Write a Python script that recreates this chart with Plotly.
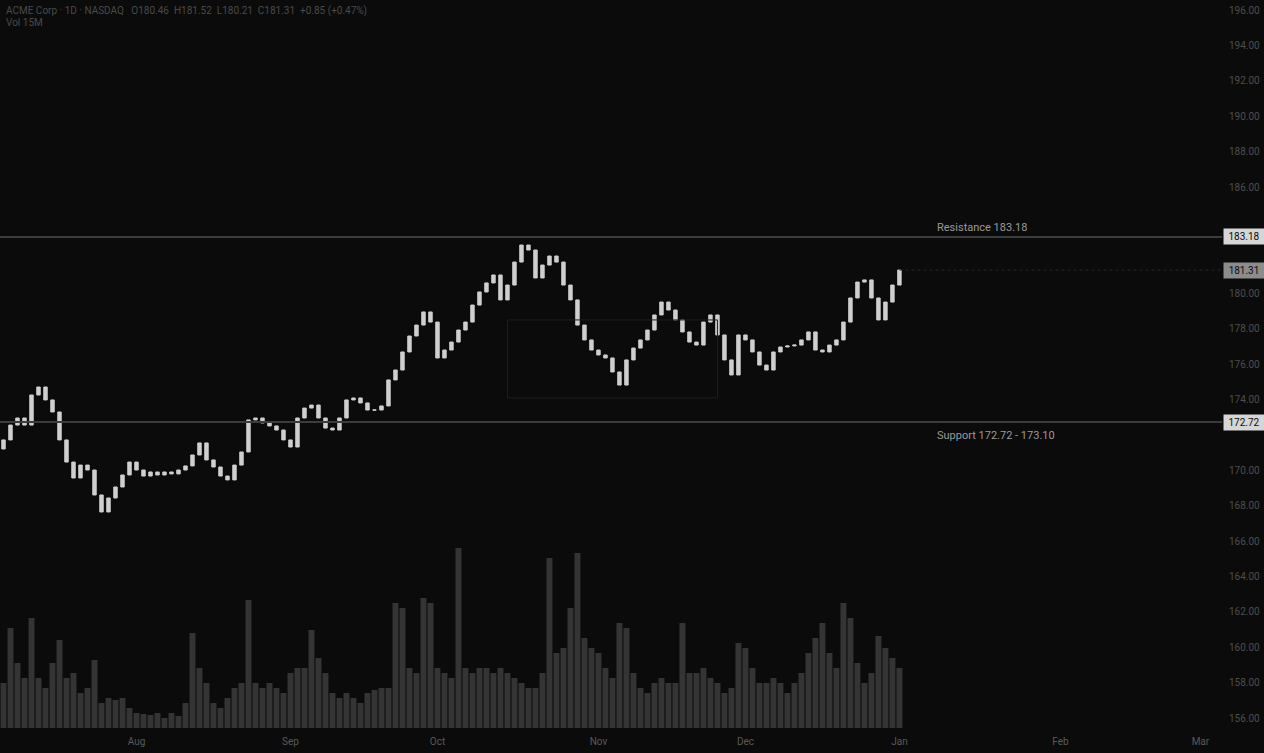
import pandas as pd
import plotly.graph_objects as go

# ---------------- data ----------------
start_date = "2024-07-05"
first_open = 171.20
closes = [
    171.71, 172.55, 172.95, 172.55, 174.25, 174.70, 173.97, 173.29, 171.71, 170.46,
    169.56, 170.29, 170.01, 168.60, 167.64, 168.43, 169.05, 169.73, 170.46, 170.01,
    169.67, 169.90, 169.73, 169.90, 169.79, 170.01, 170.24, 170.86, 171.54, 170.58,
    170.18, 169.67, 169.45, 170.29, 171.03, 172.84, 172.95, 172.67, 172.50, 172.27,
    171.71, 171.31, 172.95, 173.51, 173.68, 172.95, 172.38, 172.27, 172.95, 173.97,
    174.08, 173.80, 173.40, 173.40, 173.63, 175.10, 175.66, 176.68, 177.58, 178.20,
    178.94, 178.37, 176.34, 176.79, 177.24, 177.92, 178.37, 179.33, 180.07, 180.58,
    181.03, 179.62, 180.46, 181.76, 182.72, 182.44, 180.86, 181.59, 182.10, 181.76,
    180.46, 179.62, 178.20, 177.36, 176.79, 176.51, 176.34, 175.55, 174.81, 176.23,
    176.90, 177.36, 177.92, 178.77, 179.50, 179.05, 178.49, 177.81, 177.24, 177.07,
    178.37, 178.77, 177.64, 176.23, 175.38, 177.64, 177.36, 176.68, 175.94, 175.66,
    176.68, 176.96, 177.02, 177.07, 177.36, 177.81, 176.79, 176.68, 177.07, 177.36,
    178.37, 179.73, 180.63, 180.75, 179.73, 178.49, 179.50, 180.46, 181.31,
]
volumes_m = [
    11.25, 25, 16.25, 12.5, 27.5, 12.5, 10, 16.25, 22, 12.5,
    13.75, 8.75, 10, 17, 6.25, 7.5, 7, 7.5, 5, 3.75,
    3.5, 3.25, 3.75, 2.5, 3.75, 3, 6.25, 23.75, 15, 11.25,
    6.25, 5, 7.5, 10, 11.25, 32, 11.25, 10, 11.25, 10,
    8.75, 13.75, 15, 15, 24.5, 17.5, 13.75, 8.75, 7.5, 8.75,
    7.5, 6.25, 8.75, 9.5, 10, 10, 31.25, 30, 15, 13.75,
    32.5, 31.25, 15, 13.75, 12.5, 45, 15, 13.75, 15, 15,
    13.75, 15, 13.75, 12.5, 11.25, 10, 10, 13.75, 42.5, 18.75,
    20, 30, 43.75, 22.5, 20, 18.75, 15, 12.5, 26.25, 25,
    13.75, 10, 8.75, 11.25, 12.5, 11.25, 11.25, 26.25, 13.75, 13.75,
    15, 12.5, 11.25, 8.75, 10, 21.25, 20, 15, 11.25, 11.25,
    12.5, 11.25, 8.75, 11.25, 13.75, 18.75, 22.5, 26.25, 18.75, 15,
    31.25, 27.5, 16.25, 11.25, 13.75, 23, 20, 17.5, 15,
]
resistance = 183.18
support = 172.72
range_box = {"start": 72, "end": 102, "low": 174.08, "high": 178.49}
price_tickvals = [156, 158, 160, 162, 164, 166, 168, 170, 174, 176, 178, 180, 186, 188, 190, 192, 194, 196]
title_text = "ACME Corp · 1D · NASDAQ   O180.46  H181.52  L180.21  C181.31  +0.85 (+0.47%)"
subtitle_text = "Vol 15M"
resistance_text = "Resistance 183.18"
support_text = "Support 172.72 - 173.10"

assert len(closes) == len(volumes_m)

dates = pd.bdate_range(start_date, periods=len(closes))
opens = [first_open] + closes[:-1]
highs = [max(o, c) for o, c in zip(opens, closes)]
lows = [min(o, c) for o, c in zip(opens, closes)]

BG = "#0b0b0b"
TXT = "#5a5a5a"
FONT = "Roboto"

fig = go.Figure()

fig.add_trace(go.Bar(
    x=dates, y=volumes_m, yaxis="y2",
    marker=dict(color="#343434", line=dict(width=0)),
    showlegend=False, hoverinfo="skip",
))

fig.add_trace(go.Candlestick(
    x=dates, open=opens, high=highs, low=lows, close=closes,
    increasing=dict(line=dict(color="#cfcfcf", width=1), fillcolor="#cfcfcf"),
    decreasing=dict(line=dict(color="#cfcfcf", width=1), fillcolor="#cfcfcf"),
    showlegend=False,
))

x_start = dates[0] - pd.Timedelta(hours=12)
x_end = pd.Timestamp("2025-03-06 02:00")

shapes = [
    dict(type="line", xref="paper", x0=0, x1=1, yref="y", y0=resistance, y1=resistance,
         line=dict(color="#3c3c3c", width=2)),
    dict(type="line", xref="paper", x0=0, x1=1, yref="y", y0=support, y1=support,
         line=dict(color="#3c3c3c", width=2)),
    dict(type="line", xref="x", x0=dates[-1], x1=x_end, yref="y", y0=closes[-1], y1=closes[-1],
         line=dict(color="#262626", width=1, dash="dot")),
    dict(type="rect", xref="x", x0=dates[range_box["start"]], x1=dates[range_box["end"]],
         yref="y", y0=range_box["low"], y1=range_box["high"],
         line=dict(color="#1e1e1e", width=1), fillcolor="rgba(0,0,0,0)"),
]

ann = [
    dict(text=title_text, xref="paper", yref="paper", x=0, y=1, xanchor="left", yanchor="top",
         xshift=4, yshift=-3, showarrow=False, font=dict(color="#4a4a4a", size=10, family=FONT)),
    dict(text=subtitle_text, xref="paper", yref="paper", x=0, y=1, xanchor="left", yanchor="top",
         xshift=4, yshift=-15, showarrow=False, font=dict(color="#4a4a4a", size=10, family=FONT)),
    dict(text=resistance_text, xref="paper", yref="y", x=0.765, y=resistance, xanchor="left",
         yanchor="bottom", yshift=1, showarrow=False, font=dict(color="#9a9a9a", size=11, family=FONT)),
    dict(text=support_text, xref="paper", yref="y", x=0.765, y=support, xanchor="left",
         yanchor="top", yshift=-5, showarrow=False, font=dict(color="#9a9a9a", size=11, family=FONT)),
]
for val, bg in [(resistance, "#d6d6d6"), (closes[-1], "#8c8c8c"), (support, "#d6d6d6")]:
    ann.append(dict(text=f"{val:.2f}", xref="paper", yref="y", x=1, y=val, xanchor="left",
                    yanchor="middle", xshift=1, showarrow=False, bgcolor=bg, borderpad=2, width=36,
                    font=dict(color="#0b0b0b", size=10, family=FONT)))

plot_h = 728
px_per_unit = 17.7
y_bottom = 156 + (718 - plot_h) / px_per_unit
y_top = 156 + 718 / px_per_unit

fig.update_layout(
    width=1264, height=753,
    margin=dict(l=0, r=42, t=0, b=25),
    paper_bgcolor=BG, plot_bgcolor=BG,
    font=dict(family=FONT, color=TXT, size=10),
    bargap=0.15,
    shapes=shapes, annotations=ann,
    xaxis=dict(type="date", range=[x_start, x_end], rangebreaks=[dict(bounds=["sat", "mon"])],
               rangeslider=dict(visible=False), dtick="M1", tickformat="%b",
               showgrid=False, zeroline=False, showline=False, ticks="",
               tickfont=dict(color=TXT, size=10), ticklabelstandoff=6),
    yaxis=dict(side="right", range=[y_bottom, y_top], tickvals=price_tickvals, tickformat=".2f",
               showgrid=False, zeroline=False, showline=False, ticks="",
               tickfont=dict(color="#4e4e4e", size=10), ticklabelstandoff=6),
    yaxis2=dict(overlaying="y", range=[0, plot_h / 4], visible=False, showgrid=False),
)

fig.write_html("out.html", config={"displayModeBar": False},
               post_script="document.body.style.margin='0';")
